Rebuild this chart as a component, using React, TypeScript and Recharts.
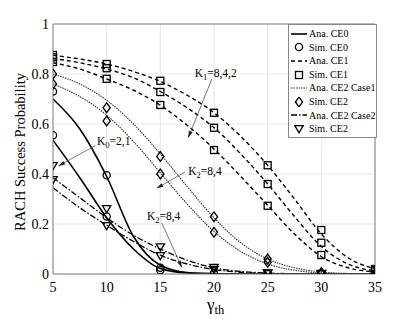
import {
  ComposedChart,
  Line,
  Scatter,
  XAxis,
  YAxis,
  CartesianGrid,
  Legend,
  ReferenceLine,
  ReferenceDot,
  Label,
} from "recharts";

// x positions of the analytical curves and of the simulation points
const gammaFine = [5, 7.5, 10, 12.5, 15, 17.5, 20, 22.5, 25, 27.5, 30, 32.5, 35];
const gammaSim = [5, 10, 15, 20, 25, 30, 35];

const xTicks = [5, 10, 15, 20, 25, 30, 35];
const yTicks = [0, 0.2, 0.4, 0.6, 0.8, 1];

// Ana. CE0 (K0 = 2, 1)
const anaCE0 = [
  [0.7, 0.58, 0.39, 0.15, 0.035, 0.006, 0.001, 0, 0, 0, 0, 0, 0],
  [0.535, 0.385, 0.225, 0.1, 0.022, 0.004, 0.001, 0, 0, 0, 0, 0, 0],
];
const simCE0 = [
  [0.73, 0.395, 0.025, 0.003, 0, 0, 0],
  [0.555, 0.23, 0.015, 0.002, 0, 0, 0],
];

// Ana. CE1 (K1 = 8, 4, 2)
const anaCE1 = [
  [0.875, 0.86, 0.84, 0.81, 0.77, 0.715, 0.645, 0.55, 0.435, 0.3, 0.16, 0.065, 0.02],
  [0.862, 0.845, 0.82, 0.785, 0.73, 0.665, 0.585, 0.48, 0.36, 0.23, 0.11, 0.04, 0.012],
  [0.845, 0.82, 0.78, 0.735, 0.675, 0.595, 0.5, 0.39, 0.275, 0.16, 0.07, 0.025, 0.008],
];
const simCE1 = [
  [0.876, 0.84, 0.773, 0.645, 0.435, 0.176, 0.02],
  [0.867, 0.823, 0.728, 0.585, 0.36, 0.125, 0.015],
  [0.848, 0.781, 0.676, 0.496, 0.273, 0.076, 0.01],
];

// Ana. CE2 Case1 (K2 = 8, 4)
const anaCE2c1 = [
  [0.8, 0.76, 0.695, 0.6, 0.48, 0.35, 0.225, 0.125, 0.06, 0.025, 0.008, 0.002, 0],
  [0.76, 0.71, 0.635, 0.53, 0.405, 0.28, 0.17, 0.09, 0.04, 0.015, 0.004, 0.001, 0],
];
const simCE2c1 = [
  [0.8, 0.665, 0.47, 0.229, 0.06, 0.005, 0.001],
  [0.76, 0.612, 0.4, 0.167, 0.047, 0.003, 0],
];

// Ana. CE2 Case2 (K2 = 8, 4)
const anaCE2c2 = [
  [0.385, 0.305, 0.225, 0.155, 0.1, 0.055, 0.025, 0.01, 0.004, 0.001, 0, 0, 0],
  [0.345, 0.265, 0.195, 0.13, 0.075, 0.04, 0.018, 0.007, 0.002, 0, 0, 0, 0],
];
const simCE2c2 = [
  [0.432, 0.26, 0.107, 0.025, 0.003, 0.001, 0],
  [0.376, 0.192, 0.072, 0.017, 0.002, 0, 0],
];

const legendItems = [
  { label: "Ana. CE0", kind: "solid" },
  { label: "Sim. CE0", kind: "circle" },
  { label: "Ana. CE1", kind: "dashed" },
  { label: "Sim. CE1", kind: "square" },
  { label: "Ana. CE2 Case1", kind: "dotted" },
  { label: "Sim. CE2", kind: "diamond" },
  { label: "Ana. CE2 Case2", kind: "dashdot" },
  { label: "Sim. CE2", kind: "triangle" },
];

const FONT = "'Liberation Serif', 'Times New Roman', serif";

const toPoints = (xs: number[], ys: number[]) => xs.map((x, i) => ({ x, y: ys[i] }));

const lineStyles: Record<string, { width: number; dash?: string; color: string }> = {
  solid: { width: 1.6, color: "#000" },
  dashed: { width: 1.4, dash: "4 3", color: "#000" },
  dotted: { width: 1.1, dash: "1.5 1", color: "#333" },
  dashdot: { width: 1.3, dash: "6 2 1.5 2", color: "#000" },
};

function Marker({ kind, cx, cy }: { kind: string; cx: number; cy: number }) {
  const common = { fill: "none", stroke: "#000", strokeWidth: 1.3 };
  if (kind === "circle") return <circle cx={cx} cy={cy} r={3.6} {...common} />;
  if (kind === "square") return <rect x={cx - 3.5} y={cy - 3.5} width={7} height={7} {...common} />;
  if (kind === "diamond")
    return <polygon points={`${cx},${cy - 4.8} ${cx + 3.6},${cy} ${cx},${cy + 4.8} ${cx - 3.6},${cy}`} {...common} />;
  return <polygon points={`${cx - 4.2},${cy - 3.4} ${cx + 4.2},${cy - 3.4} ${cx},${cy + 3.8}`} {...common} />;
}

const markerShape = (kind: string) => (props: any) => <Marker kind={kind} cx={props.cx} cy={props.cy} />;

function Arrow(props: any) {
  const { x1, y1, x2, y2 } = props;
  const ang = Math.atan2(y2 - y1, x2 - x1);
  const len = 7;
  const spread = 0.3;
  const ax = x2 - len * Math.cos(ang - spread);
  const ay = y2 - len * Math.sin(ang - spread);
  const bx = x2 - len * Math.cos(ang + spread);
  const by = y2 - len * Math.sin(ang + spread);
  return (
    <g>
      <line x1={x1} y1={y1} x2={x2} y2={y2} stroke="#555" strokeWidth={0.8} />
      <polygon points={`${x2},${y2} ${ax},${ay} ${bx},${by}`} fill="#222" />
    </g>
  );
}

const annoText = (main: string, sub: string, rest: string) => (props: any) => (
  <text x={props.cx} y={props.cy} fontFamily={FONT} fontSize={11.5} fill="#000">
    {main}
    <tspan fontSize={8.5} dy={3}>
      {sub}
    </tspan>
    <tspan dy={-3}>{rest}</tspan>
  </text>
);

const annotations = [
  { tx: 18.2, ty: 0.79, main: "K", sub: "1", rest: "=8,4,2", from: [19.8, 0.78], to: [17.6, 0.545] },
  { tx: 17.6, ty: 0.398, main: "K", sub: "2", rest: "=8,4", from: [17.3, 0.408], to: [14.66, 0.343] },
  { tx: 13.75, ty: 0.218, main: "K", sub: "2", rest: "=8,4", from: [15.13, 0.205], to: [17.0, 0.026] },
  { tx: 9.1, ty: 0.518, main: "K", sub: "0", rest: "=2,1", from: [8.95, 0.514], to: [5.5, 0.432] },
];

function LegendSample({ kind }: { kind: string }) {
  const st = lineStyles[kind];
  return (
    <svg width={18} height={10} style={{ display: "block", flex: "none" }}>
      {st ? (
        <line x1={1} y1={5} x2={17} y2={5} stroke={st.color} strokeWidth={st.width} strokeDasharray={st.dash} />
      ) : (
        <Marker kind={kind} cx={9} cy={5} />
      )}
    </svg>
  );
}

function LegendBox() {
  return (
    <div
      style={{
        border: "1px solid #888",
        background: "#fff",
        padding: "2px 2px 1px 1px",
        fontFamily: FONT,
        fontSize: 10,
        lineHeight: "13.6px",
        width: 84,
      }}
    >
      {legendItems.map((it, i) => (
        <div key={i} style={{ display: "flex", alignItems: "center", height: 13.6 }}>
          <LegendSample kind={it.kind} />
          <span style={{ marginLeft: 1, whiteSpace: "nowrap" }}>{it.label}</span>
        </div>
      ))}
    </div>
  );
}

export default function App() {
  return (
    <div style={{ position: "absolute", left: 0, top: 0, width: 415, height: 319, background: "#fff" }}>
      <ComposedChart width={415} height={319} margin={{ top: 24, right: 40, bottom: 20, left: 20 }}>
        <CartesianGrid stroke="#e6e6e6" strokeWidth={1} />
        <XAxis
          type="number"
          dataKey="x"
          domain={[5, 35]}
          ticks={xTicks}
          allowDataOverflow
          stroke="#808080"
          tickLine={false}
          tickSize={0}
          tickMargin={8}
          height={25}
          tick={{ fill: "#000", fontFamily: FONT, fontSize: 14 }}
        >
          <Label
            content={(p: any) => {
              const vb = p.viewBox;
              return (
                <text x={vb.x + vb.width / 2 - 7} y={vb.y + 36} fontFamily={FONT} fontSize={17} fill="#000">
                  γ
                  <tspan fontSize={12.5} dy={4}>
                    th
                  </tspan>
                </text>
              );
            }}
          />
        </XAxis>
        <YAxis
          type="number"
          dataKey="y"
          domain={[0, 1]}
          ticks={yTicks}
          allowDataOverflow
          stroke="#808080"
          tickLine={false}
          tickSize={0}
          tickMargin={4}
          width={33}
          tick={{ fill: "#000", fontFamily: FONT, fontSize: 14 }}
        >
          <Label
            content={(p: any) => {
              const vb = p.viewBox;
              const cx = 20;
              const cy = vb.y + vb.height / 2 + 3;
              return (
                <text
                  x={cx}
                  y={cy}
                  transform={`rotate(-90, ${cx}, ${cy})`}
                  textAnchor="middle"
                  dominantBaseline="central"
                  fontFamily={FONT}
                  fontSize={14.5}
                  fill="#000"
                >
                  RACH Success Probability
                </text>
              );
            }}
          />
        </YAxis>
        <ReferenceLine y={1} stroke="#808080" />
        <ReferenceLine x={35} stroke="#808080" />

        {anaCE1.map((ys, i) => (
          <Line key={`a1-${i}`} data={toPoints(gammaFine, ys)} dataKey="y" type="monotone" stroke="#000"
            strokeWidth={1.4} strokeDasharray="4 3" dot={false} activeDot={false} isAnimationActive={false} />
        ))}
        {anaCE2c1.map((ys, i) => (
          <Line key={`a21-${i}`} data={toPoints(gammaFine, ys)} dataKey="y" type="monotone" stroke="#333"
            strokeWidth={1.1} strokeDasharray="1.5 1" dot={false} activeDot={false} isAnimationActive={false} />
        ))}
        {anaCE2c2.map((ys, i) => (
          <Line key={`a22-${i}`} data={toPoints(gammaFine, ys)} dataKey="y" type="monotone" stroke="#000"
            strokeWidth={1.3} strokeDasharray="6 2 1.5 2" dot={false} activeDot={false} isAnimationActive={false} />
        ))}
        {anaCE0.map((ys, i) => (
          <Line key={`a0-${i}`} data={toPoints(gammaFine, ys)} dataKey="y" type="monotone" stroke="#000"
            strokeWidth={1.6} dot={false} activeDot={false} isAnimationActive={false} />
        ))}

        {simCE0.map((ys, i) => (
          <Scatter key={`s0-${i}`} data={toPoints(gammaSim, ys)} dataKey="y" shape={markerShape("circle")} isAnimationActive={false} />
        ))}
        {simCE1.map((ys, i) => (
          <Scatter key={`s1-${i}`} data={toPoints(gammaSim, ys)} dataKey="y" shape={markerShape("square")} isAnimationActive={false} />
        ))}
        {simCE2c1.map((ys, i) => (
          <Scatter key={`s21-${i}`} data={toPoints(gammaSim, ys)} dataKey="y" shape={markerShape("diamond")} isAnimationActive={false} />
        ))}
        {simCE2c2.map((ys, i) => (
          <Scatter key={`s22-${i}`} data={toPoints(gammaSim, ys)} dataKey="y" shape={markerShape("triangle")} isAnimationActive={false} />
        ))}

        {annotations.map((a, i) => (
          <ReferenceLine
            key={`arr-${i}`}
            segment={[{ x: a.from[0], y: a.from[1] }, { x: a.to[0], y: a.to[1] }]}
            shape={Arrow}
            ifOverflow="visible"
          />
        ))}
        {annotations.map((a, i) => (
          <ReferenceDot key={`txt-${i}`} x={a.tx} y={a.ty} r={0} shape={annoText(a.main, a.sub, a.rest)} ifOverflow="visible" />
        ))}

        <Legend
          layout="horizontal"
          verticalAlign="middle"
          align="center"
          content={() => <LegendBox />}
          wrapperStyle={{ top: 24, left: 288, width: 88, height: "auto" }}
        />
      </ComposedChart>
    </div>
  );
}
